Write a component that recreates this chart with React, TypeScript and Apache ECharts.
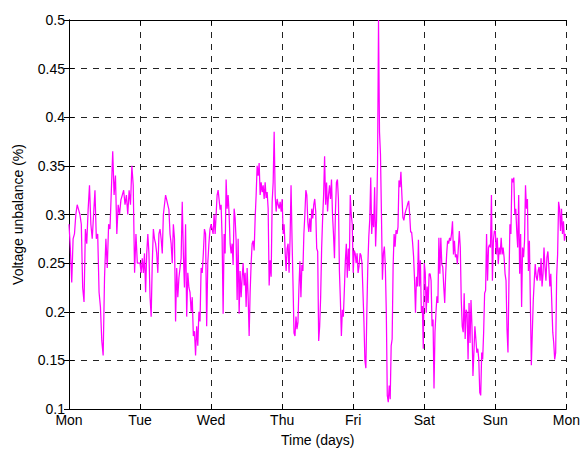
import React, { useEffect, useRef } from "react";
import * as echarts from "echarts";

const dayLabels = ["Mon", "Tue", "Wed", "Thu", "Fri", "Sat", "Sun", "Mon"];
const yTicks = [0.1, 0.15, 0.2, 0.25, 0.3, 0.35, 0.4, 0.45, 0.5];

const monValues = [
  0.29, 0.265, 0.23, 0.275, 0.28, 0.3, 0.31, 0.305, 0.3, 0.29, 0.225, 0.21, 0.285, 0.27,
  0.305, 0.33, 0.29, 0.275, 0.3, 0.325, 0.275, 0.28, 0.22, 0.205, 0.17, 0.155, 0.235,
  0.275, 0.245, 0.29, 0.285, 0.325, 0.365, 0.32, 0.34, 0.28, 0.31, 0.3, 0.315, 0.32,
  0.325, 0.31, 0.32, 0.3, 0.325, 0.31, 0.35, 0.33, 0.24, 0.28, 0.25, 0.25,
];
const tueValues = [
  0.25, 0.24, 0.255, 0.24, 0.26, 0.22, 0.26, 0.28, 0.26, 0.215, 0.195, 0.25, 0.285,
  0.275, 0.27, 0.26, 0.24, 0.28, 0.285, 0.275, 0.26, 0.3, 0.31, 0.32, 0.315, 0.31, 0.305,
  0.28, 0.27, 0.25, 0.29, 0.275, 0.19, 0.245, 0.215, 0.235, 0.245, 0.255, 0.313, 0.26,
  0.225, 0.29, 0.195, 0.24, 0.225, 0.22, 0.2, 0.215, 0.175, 0.18, 0.155, 0.185, 0.165,
  0.2, 0.19, 0.245, 0.24, 0.26, 0.285, 0.28, 0.185, 0.25, 0.27, 0.285,
];
const wedValues = [
  0.29, 0.285, 0.28, 0.3, 0.28, 0.3, 0.32, 0.325, 0.315, 0.305, 0.31, 0.275, 0.198,
  0.28, 0.26, 0.336, 0.306, 0.32, 0.3, 0.27, 0.26, 0.27, 0.248, 0.306, 0.296, 0.273,
  0.212, 0.275, 0.198, 0.242, 0.215, 0.235, 0.25, 0.227, 0.24, 0.205, 0.245, 0.215,
  0.175, 0.22, 0.25, 0.27, 0.273, 0.263, 0.296, 0.32, 0.35, 0.34, 0.353, 0.32, 0.333,
  0.323, 0.33, 0.316, 0.333, 0.317, 0.323, 0.306, 0.227, 0.253, 0.236, 0.313, 0.333,
  0.385, 0.32, 0.303, 0.316, 0.31, 0.306, 0.313, 0.303,
];
const thuValues = [
  0.316, 0.28, 0.29, 0.262, 0.242, 0.265, 0.27, 0.24, 0.275, 0.33, 0.275, 0.228, 0.178,
  0.175, 0.195, 0.182, 0.189, 0.225, 0.252, 0.215, 0.248, 0.242, 0.28, 0.3, 0.325, 0.32,
  0.292, 0.282, 0.296, 0.282, 0.306, 0.296, 0.31, 0.316, 0.303, 0.265, 0.262, 0.17,
  0.185, 0.215, 0.265, 0.296, 0.32, 0.36, 0.31, 0.333, 0.303, 0.32, 0.33, 0.316, 0.336,
  0.3, 0.28, 0.255, 0.303, 0.333, 0.336, 0.316, 0.242, 0.212, 0.175, 0.202, 0.195,
  0.222, 0.252, 0.27, 0.235, 0.265, 0.242, 0.32, 0.3, 0.29,
];
const friValues = [
  0.24, 0.263, 0.26, 0.25, 0.26, 0.24, 0.247, 0.26, 0.258, 0.25, 0.22, 0.19, 0.15, 0.142,
  0.2, 0.247, 0.277, 0.295, 0.338, 0.28, 0.3, 0.287, 0.328, 0.267, 0.295, 0.352, 0.5,
  0.385, 0.362, 0.3, 0.233, 0.26, 0.267, 0.247, 0.199, 0.114, 0.107, 0.124, 0.11, 0.165,
  0.172, 0.247, 0.28, 0.267, 0.284, 0.28, 0.287, 0.335, 0.328, 0.344, 0.32, 0.297, 0.294,
  0.3, 0.304, 0.307, 0.311, 0.314, 0.3, 0.282, 0.282, 0.271, 0.257, 0.233, 0.199, 0.236,
  0.226, 0.274, 0.226, 0.253, 0.199, 0.206, 0.162,
];
const satValues = [
  0.25, 0.24, 0.199, 0.226, 0.209, 0.239, 0.239, 0.232, 0.185, 0.192, 0.121, 0.179,
  0.199, 0.216, 0.209, 0.276, 0.239, 0.276, 0.249, 0.246, 0.226, 0.209, 0.239, 0.259,
  0.273, 0.27, 0.276, 0.273, 0.28, 0.293, 0.259, 0.273, 0.256, 0.259, 0.249, 0.266,
  0.283, 0.266, 0.212, 0.185, 0.179, 0.219, 0.172, 0.202, 0.199, 0.151, 0.209, 0.168,
  0.212, 0.185, 0.134, 0.158, 0.185, 0.172, 0.158, 0.162, 0.151, 0.117, 0.114, 0.158,
  0.151, 0.179, 0.219, 0.222, 0.28, 0.232, 0.266, 0.269, 0.266, 0.32, 0.232, 0.273, 0.283,
];
const sunValues = [
  0.283, 0.259, 0.276, 0.249, 0.266, 0.259, 0.276, 0.259, 0.266, 0.256, 0.239, 0.232,
  0.182, 0.158, 0.232, 0.29, 0.28, 0.337, 0.333, 0.338, 0.3, 0.306, 0.283, 0.266, 0.32,
  0.239, 0.28, 0.205, 0.266, 0.256, 0.273, 0.33, 0.306, 0.316, 0.242, 0.273, 0.209,
  0.145, 0.179, 0.212, 0.232, 0.249, 0.236, 0.232, 0.242, 0.246, 0.232, 0.255, 0.226,
  0.239, 0.266, 0.246, 0.232, 0.256, 0.262, 0.246, 0.226, 0.239, 0.209, 0.179, 0.168,
  0.151, 0.158, 0.236, 0.259, 0.313, 0.306, 0.283, 0.306, 0.28, 0.293, 0.273, 0.28,
];

const weekValues = [monValues, tueValues, wedValues, thuValues, friValues, satValues, sunValues];

function buildSeries(): [number, number][] {
  const out: [number, number][] = [];
  weekValues.forEach((vals, d) => {
    vals.forEach((v, i) => {
      out.push([d + i / vals.length, v]);
    });
  });
  return out;
}

const FONT = "Liberation Sans, Arial, Helvetica, sans-serif";

export default function App() {
  const ref = useRef<HTMLDivElement>(null);
  useEffect(() => {
    if (!ref.current) return;
    const chart = echarts.init(ref.current, undefined, { renderer: "svg" });
    const dashed = { show: true, lineStyle: { color: "#222", type: [6, 6] as any, width: 1 } };
    const xBase = {
      type: "value" as const,
      min: 0,
      max: 7,
      interval: 1,
      axisLine: { show: true, lineStyle: { color: "#000", width: 1 } },
      axisTick: { show: true, inside: true, length: 5, lineStyle: { color: "#000" } },
    };
    const yBase = {
      type: "value" as const,
      min: 0.1,
      max: 0.5,
      interval: 0.05,
      axisLine: { show: true, lineStyle: { color: "#000", width: 1 } },
      axisTick: { show: true, inside: true, length: 5, lineStyle: { color: "#000" } },
    };
    chart.setOption({
      animation: false,
      backgroundColor: "#fff",
      grid: { left: 69, right: 14, top: 20, bottom: 39, containLabel: false },
      xAxis: [
        {
          ...xBase,
          position: "bottom",
          splitLine: dashed,
          name: "Time (days)",
          nameLocation: "middle",
          nameGap: 24,
          nameTextStyle: { color: "#000", fontSize: 14, fontFamily: FONT },
          axisLabel: {
            show: true,
            margin: 4,
            color: "#000",
            fontSize: 14,
            fontFamily: FONT,
            showMinLabel: true,
            showMaxLabel: true,
            formatter: (v: number) => dayLabels[Math.round(v)] ?? "",
          },
        },
        {
          ...xBase,
          position: "top",
          splitLine: { show: false },
          axisLabel: { show: false },
        },
      ],
      yAxis: [
        {
          ...yBase,
          position: "left",
          splitLine: dashed,
          name: "Voltage unbalance (%)",
          nameLocation: "middle",
          nameGap: 44,
          nameTextStyle: { color: "#000", fontSize: 14, fontFamily: FONT },
          axisLabel: {
            show: true,
            margin: 4,
            color: "#000",
            fontSize: 14,
            fontFamily: FONT,
            showMinLabel: true,
            showMaxLabel: true,
            formatter: (v: number) => {
              const t = yTicks.find((k) => Math.abs(k - v) < 1e-6);
              return String(t ?? parseFloat(v.toFixed(2)));
            },
          },
        },
        {
          ...yBase,
          position: "right",
          splitLine: { show: false },
          axisLabel: { show: false },
        },
      ],
      series: [
        {
          type: "line",
          data: buildSeries(),
          showSymbol: false,
          symbol: "none",
          lineStyle: { color: "#ff00ff", width: 1.25 },
          xAxisIndex: 0,
          yAxisIndex: 0,
        },
      ],
    });
    return () => chart.dispose();
  }, []);
  return (
    <div
      ref={ref}
      style={{ position: "absolute", left: 0, top: 0, width: 583, height: 452, background: "#fff" }}
    />
  );
}
